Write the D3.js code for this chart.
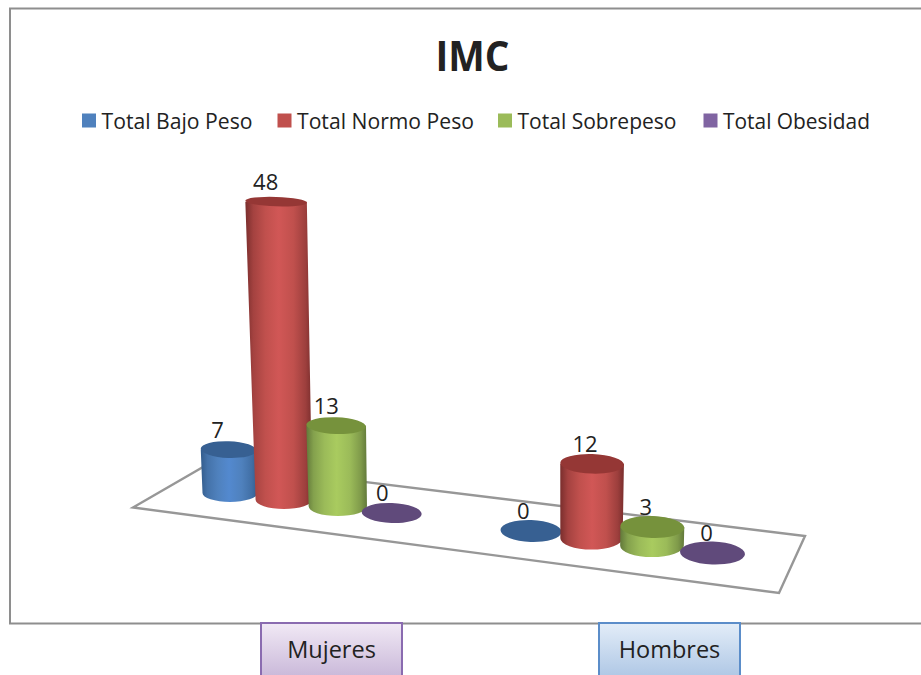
<!DOCTYPE html>
<html>
<head>
<meta charset="utf-8">
<script src="https://cdn.jsdelivr.net/npm/d3@7"></script>
<style>
  html, body { margin: 0; padding: 0; background: #fff; }
  svg { display: block; }
  text { font-family: "Open Sans", "Noto Sans", sans-serif; fill: #222; }
</style>
</head>
<body>
<svg id="chart" width="921" height="675"></svg>
<script>
// Chart values
const categories = ["Mujeres", "Hombres"];
const seriesNames = ["Total Bajo Peso", "Total Normo Peso", "Total Sobrepeso", "Total Obesidad"];
const bajoPeso = [7, 0];
const normoPeso = [48, 12];
const sobrepeso = [13, 3];
const obesidad = [0, 0];
const seriesValues = [bajoPeso, normoPeso, sobrepeso, obesidad];

// Series colours: legend/body, cap, shaded edge, highlight
const bodyColors = ["#4f81bd", "#c0504d", "#9bbb59", "#8064a2"];
const capColors = ["#376092", "#953735", "#76923c", "#604a7b"];
const edgeColors = ["#335c8c", "#7a2e2d", "#62793a", "#4f3d68"];
const lightColors = ["#5389cf", "#d15756", "#a9cb5f", "#8b6db0"];

const svg = d3.select("#chart");
const defs = svg.append("defs");

// Floor position along the receding axis: categories sit six slots apart,
// with one slot for each series
const slot = (c, s) => c * 6 + s;
const slotDomain = [0, 3, 6, 9];
const floorX = d3.scaleLinear().domain(slotDomain).range([230, 391.7, 531, 712.5]);
const floorY = d3.scaleLinear().domain(slotDomain).range([493, 513, 531, 553]);
const radiusX = d3.scaleLinear().domain(slotDomain).range([27.5, 30, 30.5, 32.5]);
const radiusY = d3.scaleLinear().domain(slotDomain).range([9, 10, 11, 11.5]);
const labelDx = d3.scaleLinear().domain([0, 9]).range([-11, -6]);

// Bar height, plus the perspective effects that grow with it
const barHeight = d3.scaleLinear().domain([0, 48]).range([0, 298]);
const lean = (x, h) => (x - 520) / 9000 * h;
const capRx = (rx, h) => rx * (1 + h / 3500);
const capRy = (ry, h) => ry * (1 - h / 600);

// Outer chart frame, open on the right edge
svg.append("path")
  .attr("d", "M921,8.5H10V623.5H921")
  .attr("fill", "none").attr("stroke", "#8e8e8e").attr("stroke-width", 2);

// Title
svg.append("text").attr("x", 472.5).attr("y", 71).attr("text-anchor", "middle")
  .attr("font-size", 42).attr("font-weight", 700)
  .attr("textLength", 74).attr("lengthAdjust", "spacingAndGlyphs").text("IMC");

// Legend
const legendSwatchX = [82, 277.5, 498, 703.5];
const legendTextWidth = [151, 177, 159, 147];
const legend = svg.append("g").selectAll("g").data(seriesNames).join("g")
  .attr("transform", (d, i) => `translate(${legendSwatchX[i]},113.5)`);
legend.append("rect").attr("width", 14).attr("height", 14)
  .attr("fill", (d, i) => bodyColors[i]);
legend.append("text").attr("x", 19.5).attr("y", 15)
  .attr("font-size", 22).attr("textLength", (d, i) => legendTextWidth[i])
  .attr("lengthAdjust", "spacingAndGlyphs").text(d => d);

// Floor of the plot
const floorCorners = [[133, 507.5], [210, 463], [805, 536], [779, 593]];
svg.append("path")
  .attr("d", d3.line()(floorCorners) + "Z")
  .attr("fill", "#fff").attr("stroke", "#979797").attr("stroke-width", 2.4)
  .attr("stroke-linejoin", "miter");

// Cylinder shading
bodyColors.forEach((c, i) => {
  const g = defs.append("linearGradient").attr("id", `cyl${i}`)
    .attr("x1", 0).attr("x2", 1).attr("y1", 0).attr("y2", 0);
  [[0, edgeColors[i]], [0.12, d3.interpolateRgb(edgeColors[i], c)(0.6)], [0.3, c],
   [0.5, lightColors[i]], [0.72, c], [0.9, d3.interpolateRgb(edgeColors[i], c)(0.5)], [1, edgeColors[i]]]
    .forEach(([o, col]) => g.append("stop").attr("offset", o).attr("stop-color", col));
});

// One record per bar, in back-to-front paint order
const bars = categories.flatMap((cat, c) =>
  seriesNames.map((name, s) => {
    const p = slot(c, s);
    const h = barHeight(seriesValues[s][c]);
    const x = floorX(p), y = floorY(p), rx = radiusX(p), ry = radiusY(p);
    return { s, p, value: seriesValues[s][c], h, x, y, rx, ry,
             tx: x + lean(x, h), ty: y - h, trx: capRx(rx, h), try_: capRy(ry, h) };
  }));

const barG = svg.append("g").selectAll("g").data(bars).join("g");

barG.filter(d => d.h > 0).append("path")
  .attr("d", d =>
    `M${d.tx - d.trx},${d.ty}` +
    `L${d.x - d.rx},${d.y}` +
    `A${d.rx},${d.ry} 0 0 0 ${d.x + d.rx},${d.y}` +
    `L${d.tx + d.trx},${d.ty}Z`)
  .attr("fill", d => `url(#cyl${d.s})`);

barG.append("ellipse")
  .attr("cx", d => d.tx).attr("cy", d => d.ty)
  .attr("rx", d => d.trx).attr("ry", d => d.try_)
  .attr("transform", d => `rotate(2 ${d.tx} ${d.ty})`)
  .attr("fill", d => capColors[d.s]);

// Value labels sit above and to the left of each cap
svg.append("g").selectAll("text").data(bars).join("text")
  .attr("x", d => d.tx + labelDx(d.p)).attr("y", d => d.ty - 12)
  .attr("text-anchor", "middle").attr("font-size", 22)
  .text(d => d.value);

// Category boxes along the bottom edge
const boxColors = [["#f1e9f5", "#c5b3d6", "#8a6bb0"], ["#e3edf8", "#a9c3e3", "#5b8dc9"]];
const boxX = d3.scalePoint().domain(categories).range([261, 599]);
boxColors.forEach((b, i) => {
  const g = defs.append("linearGradient").attr("id", `box${i}`)
    .attr("x1", 0).attr("x2", 0).attr("y1", 0).attr("y2", 1);
  g.append("stop").attr("offset", 0).attr("stop-color", b[0]);
  g.append("stop").attr("offset", 1).attr("stop-color", b[1]);
});
const boxes = svg.append("g").selectAll("g").data(categories).join("g")
  .attr("transform", d => `translate(${boxX(d)},623)`);
boxes.append("rect").attr("width", 141).attr("height", 60)
  .attr("fill", (d, i) => `url(#box${i})`)
  .attr("stroke", (d, i) => boxColors[i][2]).attr("stroke-width", 2);
boxes.append("text").attr("x", 70.5).attr("y", 35).attr("text-anchor", "middle")
  .attr("font-size", 23.5).text(d => d);
</script>
</body>
</html>
